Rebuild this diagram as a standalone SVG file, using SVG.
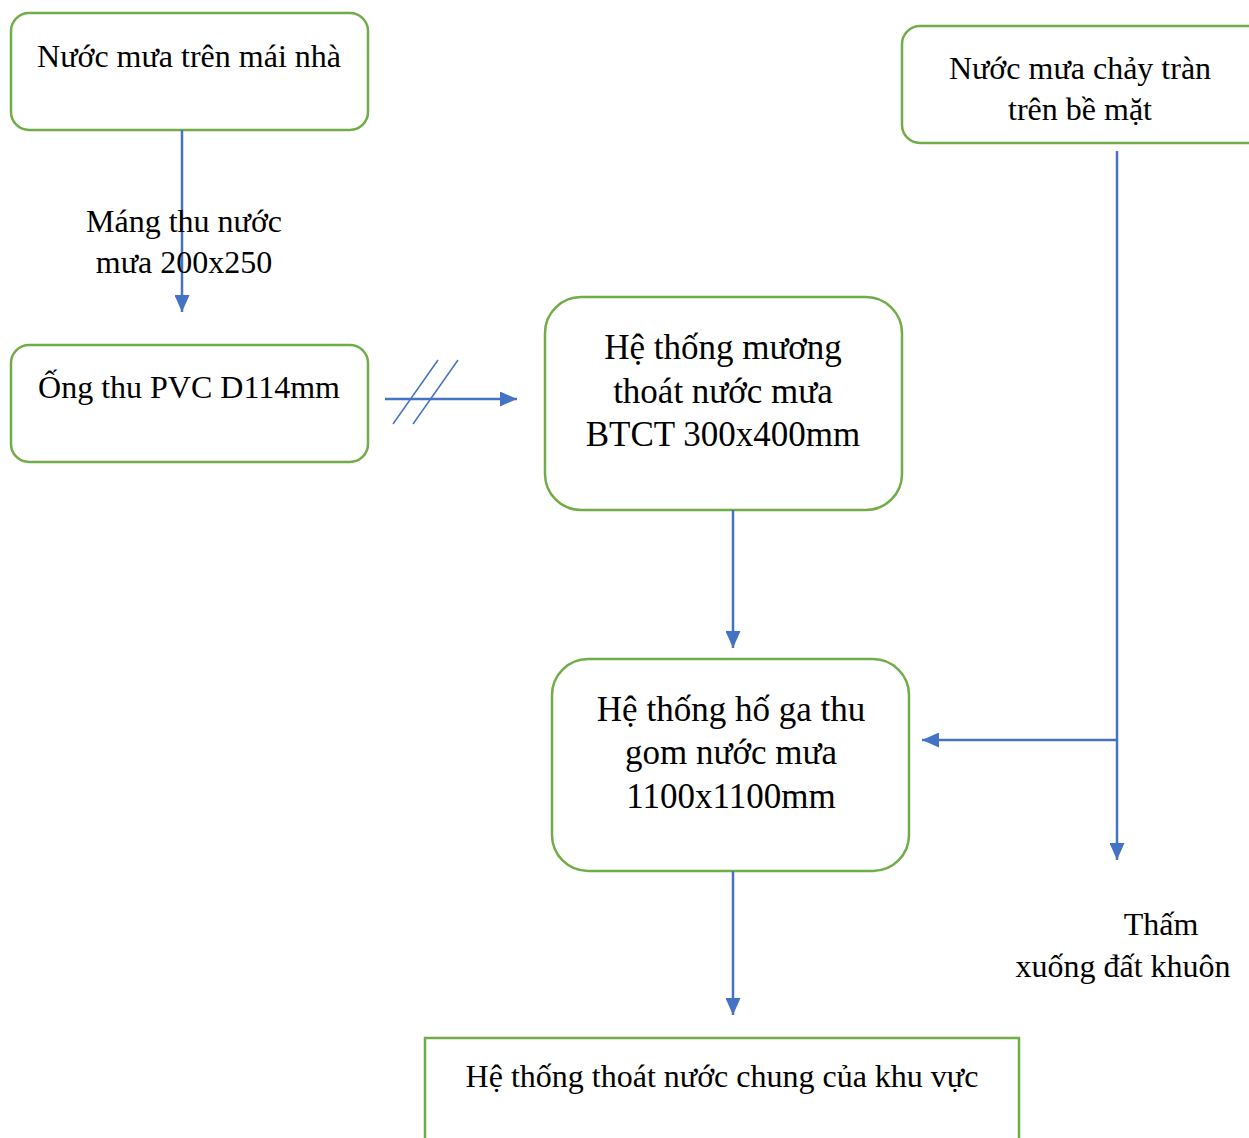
<svg xmlns="http://www.w3.org/2000/svg" width="1249" height="1138" viewBox="0 0 1249 1138">
  <defs>
    <marker id="arrow" markerWidth="17" markerHeight="15" refX="17" refY="7.5" orient="auto" markerUnits="userSpaceOnUse">
      <path d="M0,0 L17,7.5 L0,15 Z" fill="#4472C4"/>
    </marker>
    <style>
      .box { fill: #FFFFFF; stroke: #70AD47; stroke-width: 2.5; }
      .txt { font-family: "Liberation Serif", "Times New Roman", serif; fill: #000000; text-anchor: middle; }
      .sm { font-size: 32px; }
      .lg { font-size: 35px; }
      .conn { stroke: #4472C4; stroke-width: 2.5; fill: none; }
      .slash { stroke: #4472C4; stroke-width: 1.5; fill: none; }
    </style>
  </defs>
  <rect width="1249" height="1138" fill="#FFFFFF"/>

  <!-- nodes -->
  <g id="roof-rain">
    <rect class="box" x="11" y="13" width="357" height="117" rx="18"/>
    <text class="txt sm" x="189" y="67">Nước mưa trên mái nhà</text>
  </g>
  <g id="surface-rain">
    <rect class="box" x="902" y="26" width="370" height="117" rx="18"/>
    <text class="txt sm" x="1080" y="79">Nước mưa chảy tràn</text>
    <text class="txt sm" x="1080" y="120">trên bề mặt</text>
  </g>
  <g id="pvc-pipe">
    <rect class="box" x="11" y="345" width="357" height="117" rx="18"/>
    <text class="txt sm" x="189" y="398">Ống thu PVC D114mm</text>
  </g>
  <g id="drain-channel">
    <rect class="box" x="545" y="297" width="357" height="213" rx="36"/>
    <text class="txt lg" x="723" y="359">Hệ thống mương</text>
    <text class="txt lg" x="723" y="403">thoát nước mưa</text>
    <text class="txt lg" x="723" y="446">BTCT 300x400mm</text>
  </g>
  <g id="manhole">
    <rect class="box" x="552" y="659" width="357" height="212" rx="36"/>
    <text class="txt lg" x="731" y="721">Hệ thống hố ga thu</text>
    <text class="txt lg" x="731" y="764">gom nước mưa</text>
    <text class="txt lg" x="731" y="808">1100x1100mm</text>
  </g>
  <g id="area-drainage">
    <rect class="box" x="425" y="1038" width="594" height="120"/>
    <text class="txt sm" x="722" y="1087">Hệ thống thoát nước chung của khu vực</text>
  </g>

  <!-- connectors -->
  <g id="connectors">
    <line class="conn" x1="182" y1="130" x2="182" y2="312" marker-end="url(#arrow)"/>
    <line class="conn" x1="385" y1="399" x2="517" y2="399" marker-end="url(#arrow)"/>
    <line class="slash" x1="393" y1="424" x2="438" y2="360"/>
    <line class="slash" x1="413" y1="424" x2="458" y2="360"/>
    <line class="conn" x1="733" y1="510" x2="733" y2="648" marker-end="url(#arrow)"/>
    <line class="conn" x1="1117" y1="151" x2="1117" y2="860" marker-end="url(#arrow)"/>
    <line class="conn" x1="1117" y1="740" x2="922" y2="740" marker-end="url(#arrow)"/>
    <line class="conn" x1="733" y1="871" x2="733" y2="1015" marker-end="url(#arrow)"/>
  </g>

  <!-- connector labels -->
  <g id="labels">
    <text class="txt sm" x="184" y="232">Máng thu nước</text>
    <text class="txt sm" x="184" y="273">mưa 200x250</text>
    <text class="txt sm" x="1161" y="935">Thấm</text>
    <text class="txt sm" x="1123" y="977">xuống đất khuôn</text>
  </g>
</svg>
